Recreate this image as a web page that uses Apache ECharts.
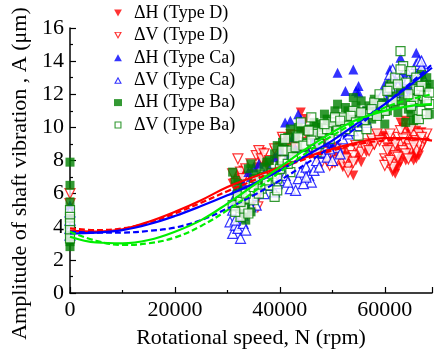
<!DOCTYPE html>
<html>
<head>
<meta charset="utf-8">
<script src="https://cdn.jsdelivr.net/npm/echarts@6/dist/echarts.min.js"></script>
<style>html,body{margin:0;padding:0;background:#fff}#c{width:434px;height:354px}</style>
</head>
<body>
<div id="c"></div>
<script>
// ---- Data (rpm, µm) ----
const xTicks = [0, 20000, 40000, 60000];
const yTicks = [0, 2, 4, 6, 8, 10, 12, 14, 16];
const legendNames = ['ΔH (Type D)','ΔV (Type D)','ΔH (Type Ca)','ΔV (Type Ca)','ΔH (Type Ba)','ΔV (Type Ba)'];

const dH_D = [[0,3.9],[0,4.3],
[31000,6.6],[31500,6.9],[32000,6.4],[32500,7.1],[33000,6.8],[31200,7.2],
[35500,7.6],[36000,8.2],[36500,8.5],[36800,7.9],[35000,6.2],[36000,5.8],
[38500,8.0],[39000,8.6],[40000,8.8],[40500,9.3],
[41500,9.0],[42000,9.6],[43000,9.2],[44000,10.9],[44500,9.8],[45000,10.5],[43500,8.6],
[47000,9.0],[48000,8.4],[49000,7.9],[50000,7.8],[50500,8.3],
[51500,8.0],[52000,7.6],[52500,8.2],[53000,7.5],[53500,7.9],[54000,7.1],[55000,8.3],[55500,8.7],[56000,9.0],
[57500,9.2],[58500,9.6],[59500,9.4],
[60500,8.8],[61000,7.9],[61500,7.3],[62000,7.2],[62500,8.0],[63000,10.3],[63500,10.0],[64000,9.1],[64500,8.6],[65000,8.2],[65500,8.0],[66000,8.4],[66500,9.0],[67000,9.7],[64000,10.4],[65000,9.6],[62000,7.5],[66000,8.1],
[60000,9.5],[61000,8.5],[62500,7.6],[63000,8.4],[63500,9.3],[64500,9.8],[65000,8.5],[65500,8.9],[66000,9.8],[66500,8.3],[67000,8.8],[67500,9.2],[61500,9.0],[62500,8.8],[64000,8.0],[63000,7.9],[65500,8.6],
[48500,9.0],[49500,8.6],[51000,8.8],[52000,8.5],[53000,8.3],[54500,8.0],[55500,7.9],[56500,8.5],[57000,8.8],[58000,8.9],
[33000,7.4],[34000,7.2],[37500,7.7],[39500,8.1],[41000,8.4],[42500,8.9],[45500,9.3],[46500,8.5]];

const dV_D = [[0,6.0],[0,5.4],
[31000,7.2],[31500,6.6],[32000,8.1],[32500,7.3],[33000,6.9],[31800,6.3],
[35500,8.3],[36000,8.6],[36500,8.1],[35000,5.4],[35800,5.2],
[40500,9.4],[41000,9.0],[42000,9.3],[43000,9.5],[44000,8.9],
[46000,8.7],[47000,8.2],[48000,7.9],[49000,8.1],[50000,8.4],[51000,8.0],[52000,7.8],[53000,7.6],[53500,8.6],[54000,8.3],[55000,8.7],[55500,8.5],[56500,9.0],[57500,9.3],[58500,9.6],
[60000,8.1],[60500,7.9],[61000,9.3],[61500,8.7],[62000,8.3],[62500,9.4],[63000,9.0],[63500,8.6],[64000,9.4],[64500,9.0],[65000,8.7],[65500,9.5],[66000,9.2],[66500,9.6],[67000,8.9],[67500,9.3],[68000,9.6],[60000,7.7],[61500,7.6],
[60500,8.6],[61000,8.0],[62000,9.0],[63000,9.8],[63500,9.3],[64000,8.4],[65000,9.9],[66000,8.6],[66500,9.0],[67000,9.4],[62500,8.2],[64500,8.1],[61000,9.6],[65500,8.9],
[48500,8.5],[49500,7.7],[50500,7.9],[51500,8.4],[52500,8.1],[53000,7.3],[54000,7.9],[54500,8.9],[56000,8.9],[57000,8.6],[58000,9.0],[59000,9.2],
[33500,7.5],[34500,7.8],[37000,8.4],[38000,8.0],[39000,8.7],[45000,9.1]];

const dH_Ca = [[0,5.3],[0,4.8],[0,4.2],[0,3.6],
[31000,5.6],[31500,6.2],[32000,5.8],[33000,6.6],[34000,7.3],[34500,7.0],[35000,7.6],[35500,6.4],[36000,7.8],
[38000,7.5],[39000,8.2],[40000,8.6],
[41000,10.3],[42000,10.4],[43500,10.8],[44000,10.5],[42500,9.4],
[45000,8.8],[46000,9.2],[47000,9.5],[48000,8.4],[49000,9.1],[50000,8.9],
[51000,13.3],[52500,12.2],[54000,13.5],[55000,12.5],[54500,12.2],[55000,12.1],
[56000,11.0],[57000,10.9],[58000,11.2],[59000,11.6],
[60000,12.6],[61000,13.5],[62000,12.9],[63000,14.2],[64000,13.3],[65000,12.6],[66000,14.5],[66500,13.4],[67000,13.8],[65500,11.5],
[37000,7.2],[41500,8.3],[43000,8.7],[46500,8.6],[47500,9.0],[52000,10.0],[56500,10.5],[58500,10.8],[61500,12.1],[63500,12.8],[64500,12.3],[67000,13.0],[60500,11.8]];

const dV_Ca = [[0,4.9],[0,4.4],[0,3.9],[0,3.5],
[30500,4.3],[31000,3.6],[31500,4.1],[32000,3.9],[32500,3.3],[33000,4.2],[33500,3.8],[31000,5.0],[32500,4.6],
[34000,5.6],[35000,5.9],[35500,5.3],[36000,6.3],[36500,6.8],
[38000,6.5],[39000,6.1],[40000,6.8],[41000,7.1],[42000,6.3],[43000,6.2],[43500,6.9],[44000,7.3],[45000,7.6],[45500,7.1],[46000,6.7],[46500,7.4],
[47000,8.0],[48000,8.5],[49000,8.2],[50000,8.0],[51000,8.8],[52000,9.3],[53000,9.6],[55000,10.1],
[58000,11.0],[59000,11.7],[60000,11.4],[61000,12.8],[61500,13.5],[62000,12.1],[63000,13.0],[64000,13.5],[65000,12.7],[65500,13.1],[66000,13.8],[66500,14.0],[67000,13.6],[67500,12.9],
[31500,4.4],[33000,4.7],[34500,5.2],[37000,6.0],[39500,6.6],[41500,6.7],[44500,6.6],[45000,7.0],[47500,7.6],[49500,8.7],[51500,8.4],[54000,9.8],[56500,10.3],[57500,10.9],[59500,12.0],[60500,12.4],[61000,13.2],[62500,12.5],[63500,12.2],[64500,12.9],[66000,13.1],[67000,14.0]];

const dH_Ba = [[0,7.9],[0,6.5],[0,5.5],[0,4.5],[0,3.5],[0,2.8],[0,3.1],
[31000,7.3],[31500,6.8],[32000,6.1],[32500,5.5],[33000,4.8],[33500,4.4],[34000,7.5],[34500,7.8],[35000,6.9],[33000,5.9],
[36000,6.5],[37000,7.6],[38000,8.0],[39000,8.4],[40000,7.7],[41000,8.7],[42000,9.9],[43000,9.4],[44000,9.8],[45000,9.1],[46000,9.6],
[47000,10.2],[48000,10.0],[49000,10.5],[50000,10.1],[51000,11.4],[52000,10.6],[53000,11.0],[54000,11.8],[55000,10.9],[56000,10.4],[57000,11.3],[58000,11.7],
[59000,10.8],[60000,10.2],[61000,12.6],[62000,11.4],[63000,12.2],[64000,10.3],[65000,10.9],[65500,11.8],[66000,10.5],[66500,12.8],[67000,13.2],[67500,11.6],[68000,12.4],[68500,10.8],
[31500,5.2],[32000,6.6],[33500,5.4],[34500,4.9],[35500,7.2],[36500,7.0],[37500,7.9],[38500,7.3],[39500,8.9],[40500,9.1],[41500,9.4],[42500,8.5],[43500,10.0],[44500,8.8],[45500,9.9],[46500,10.3],[47500,9.4],[48500,10.8],[49500,9.6],[50500,11.0],[51500,10.2],[52500,11.2],[53500,10.5],[54500,11.3],[55500,11.6],[56500,11.0],[57500,10.5],[58500,10.9],[59500,11.5],[60500,11.0],[61500,11.9],[62500,10.9],[63500,11.6],[64500,11.1],[65500,10.4],[66000,12.0],[67000,11.9],[68000,13.0],[68500,12.6]];

const dV_Ba = [[0,5.0],[0,4.6],[0,4.2],[0,3.8],[0,3.3],
[31000,5.3],[32000,5.9],[32500,4.6],[33000,5.1],[34000,5.7],[34500,6.2],[35000,5.6],[35500,6.8],
[36500,6.3],[37000,7.0],[38000,6.5],[39000,5.8],[39500,6.2],[40000,7.5],[40500,8.0],[41000,9.3],[41500,8.6],[42000,7.3],[43000,8.8],[44000,10.3],[45000,9.0],[46000,10.6],[46500,9.6],
[47000,8.5],[48000,9.7],[49000,9.9],[50000,10.3],[51000,9.8],[52000,10.6],[53000,10.1],[54000,11.0],[55000,9.5],[56000,10.4],[57000,10.8],[58000,11.5],
[59000,12.0],[60000,11.0],[61000,12.4],[62000,13.0],[63000,14.6],[63500,13.7],[64000,12.7],[65000,13.4],[65500,11.7],[66000,12.3],[66500,10.5],[67000,11.0],[67500,11.9],[68000,10.8],[68500,11.4],
[31500,4.9],[32500,5.5],[33500,6.0],[34000,4.8],[35000,6.4],[36000,6.0],[37500,6.8],[38500,7.2],[39500,6.9],[40500,8.6],[41500,7.8],[42500,8.2],[43500,9.4],[44500,8.9],[45500,9.8],[46000,9.2],[47500,9.0],[48500,10.2],[49500,9.3],[50500,10.6],[51500,10.4],[52500,9.9],[53500,10.7],[54500,10.3],[55500,10.9],[56500,9.9],[57500,11.1],[58500,10.7],[59500,11.3],[60500,12.2],[61500,11.6],[62500,12.6],[63000,13.5],[64500,12.0],[65000,11.3],[66000,13.0],[67000,12.5],[68000,11.6],[68500,12.1],[66500,12.2]];

// fitted curves, read at every 5000 rpm
const fitX = [0,5000,10000,15000,20000,25000,30000,35000,40000,45000,50000,55000,60000,65000,69000];
const fitH_D  = [3.75,3.7,3.85,4.3,4.9,5.6,6.4,7.0,7.6,8.2,8.7,9.1,9.35,9.35,9.2];
const fitV_D  = [3.9,3.8,3.9,4.25,4.8,5.45,6.15,6.8,7.5,8.1,8.6,9.0,9.2,9.3,9.3];
const fitH_Ca = [3.6,3.65,3.8,4.15,4.65,5.25,5.9,6.6,7.4,8.3,9.2,10.3,11.4,12.6,13.6];
const fitV_Ca = [3.7,3.65,3.65,3.75,3.95,4.4,5.1,5.9,6.8,7.8,8.9,10.1,11.4,12.7,13.8];
const fitH_Ba = [3.4,3.05,3.0,3.2,3.7,4.4,5.4,6.5,7.6,8.7,9.7,10.5,11.0,11.3,11.4];
const fitV_Ba = [3.7,3.15,2.9,3.0,3.35,4.05,5.0,6.1,7.3,8.45,9.5,10.4,11.2,11.7,12.0];

const F = 'Liberation Serif, Times New Roman, serif';
const DOWN = 'path://M0,0L10,0L5,9Z';
const UP = 'path://M5,0L10,9L0,9Z';
// legend icons: hollow versions drawn as rings (inner path wound the other way)
const DOWN_RING = 'path://M0,0L10,0L5,9ZM2.4,1.2L5,6.1L7.6,1.2Z';
const UP_RING = 'path://M5,0L10,9L0,9ZM5,2.9L2.4,7.8L7.6,7.8Z';
const RECT_RING = 'path://M0,0L10,0L10,10L0,10ZM1.6,1.6L1.6,8.4L8.4,8.4L8.4,1.6Z';
const colors = ['#ff0000','#ff0000','#0000ff','#0000ff','#008000','#008000'];
function pair(xs, ys){ return xs.map((x,i)=>[x,ys[i]]); }
function sc(name, data, symbol, color, hollow, size){
  return {name, type:'scatter', data, symbol, symbolSize:size,
    itemStyle: hollow ? {color:'#fff', borderColor:color, borderWidth:1.2} : {color, borderWidth:0},
    emphasis:{disabled:true}, z:2};
}
function fit(data, color, dashed){
  return {type:'line', data, smooth:0.4, symbol:'none', silent:true,
    lineStyle:{color, width:2.2, type: dashed?[6,3]:'solid'}, z:5};
}
const icons = [DOWN, DOWN_RING, UP, UP_RING, 'rect', RECT_RING];
const chart = echarts.init(document.getElementById('c'), null, {renderer:'canvas'});
chart.setOption({
  animation:false,
  backgroundColor:'#fff',
  grid:{left:70, right:2, top:28, bottom:58},
  legend:{
    orient:'vertical', left:109, top:-1, itemGap:4.4, itemWidth:8, itemHeight:7,
    textStyle:{fontFamily:F, fontSize:18, color:'#000', lineHeight:18, padding:[0,0,0,7]},
    data: legendNames.map((n,i)=>({name:n, icon:icons[i],
      itemStyle:{color:colors[i], borderWidth:0}}))
  },
  xAxis:{type:'value', min:0, max:69000, interval:20000,
    name:'Rotational speed, N (rpm)', nameLocation:'middle', nameGap:34,
    nameTextStyle:{fontFamily:F, fontSize:22, color:'#000'},
    axisLine:{show:true, lineStyle:{color:'#000', width:1.5}},
    axisTick:{show:true, inside:true, length:6, lineStyle:{color:'#000', width:1.2}},
    minorTick:{show:true, splitNumber:2, length:3, lineStyle:{color:'#000', width:1.2}},
    axisLabel:{fontFamily:F, fontSize:22, color:'#000', margin:6, showMaxLabel:false,
      formatter:v=>xTicks.includes(v)?String(v):''},
    splitLine:{show:false}},
  yAxis:{type:'value', min:0, max:16, interval:2,
    name:'Amplitude of shaft vibration , A (μm)', nameLocation:'middle', nameGap:36,
    nameTextStyle:{fontFamily:F, fontSize:22, color:'#000', padding:[0,26,0,0]},
    axisLine:{show:true, lineStyle:{color:'#000', width:1.5}},
    axisTick:{show:true, inside:true, length:6, lineStyle:{color:'#000', width:1.2}},
    minorTick:{show:true, splitNumber:2, length:3, lineStyle:{color:'#000', width:1.2}},
    axisLabel:{fontFamily:F, fontSize:22, color:'#000', margin:6,
      formatter:v=>yTicks.includes(v)?String(v):''},
    splitLine:{show:false}},
  series:[
    sc(legendNames[0], dH_D, DOWN, colors[0], false, 10),
    sc(legendNames[1], dV_D, DOWN, colors[1], true, 10),
    sc(legendNames[2], dH_Ca, UP, colors[2], false, 10),
    sc(legendNames[3], dV_Ca, UP, colors[3], true, 10),
    sc(legendNames[4], dH_Ba, 'rect', colors[4], false, 9),
    sc(legendNames[5], dV_Ba, 'rect', colors[5], true, 9),
    fit(pair(fitX, fitH_D), '#ff0000', false),
    fit(pair(fitX, fitV_D), '#ff0000', true),
    fit(pair(fitX, fitH_Ca), '#0000ff', false),
    fit(pair(fitX, fitV_Ca), '#0000ff', true),
    fit(pair(fitX, fitH_Ba), '#00ee00', false),
    fit(pair(fitX, fitV_Ba), '#00ee00', true)
  ]
});
</script>
</body>
</html>
